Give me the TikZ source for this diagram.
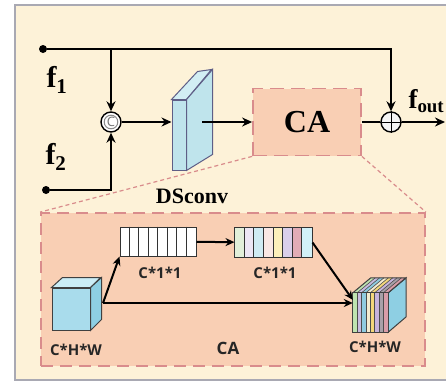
\documentclass[tikz,border=0pt]{standalone}
\usepackage{fontspec}
\setmainfont{Liberation Serif}
\newfontfamily\lblfont{Open Sans}
\usepackage{xcolor}
\definecolor{paper}{HTML}{FDF2D8}
\definecolor{frm}{HTML}{A9A9B3}
\definecolor{peach}{HTML}{F9CFB4}
\definecolor{rose}{HTML}{D98C8C}
\definecolor{ice}{HTML}{BFE4EC}
\definecolor{iceT}{HTML}{D2EEF4}
\definecolor{edge}{HTML}{5E5E86}
\definecolor{cubeF}{HTML}{A9DCEC}
\definecolor{cubeT}{HTML}{CBEDF6}
\definecolor{cubeR}{HTML}{8ECFE3}
% pale cells of the weighted vector
\definecolor{p1}{HTML}{E2EFD9}
\definecolor{p2}{HTML}{EDE6F4}
\definecolor{p3}{HTML}{CFEBF3}
\definecolor{p4}{HTML}{F9E7E4}
\definecolor{p5}{HTML}{FCEFBA}
\definecolor{p6}{HTML}{DACFEA}
\definecolor{p7}{HTML}{E2ACB6}
\definecolor{p8}{HTML}{D2F1F8}
% stripes of the output cube
\definecolor{k1}{HTML}{BFE3B0}
\definecolor{k2}{HTML}{C8BCE0}
\definecolor{k3}{HTML}{8FCBE0}
\definecolor{k4}{HTML}{F4EBD0}
\definecolor{k5}{HTML}{F3D77A}
\definecolor{k6}{HTML}{C7B4DC}
\definecolor{k7}{HTML}{A8A0A8}
\definecolor{k8}{HTML}{D89CA8}
\usetikzlibrary{arrows.meta,positioning,calc}
\tikzset{
  >={Stealth[length=10pt,width=9pt]},
  line/.style={line width=2.4pt},
  flow/.style={->,line width=2.4pt},
  iflow/.style={-{Stealth[length=9pt,width=8pt]},line width=2pt},
  dot/.style={circle,fill=black,inner sep=0pt,minimum size=8pt},
  op/.style={circle,draw=black,line width=1.4pt,fill=white,minimum size=20pt,inner sep=0pt},
  cabox/.style={draw=rose,dash pattern=on 14pt off 7pt,line width=1.8pt,fill=peach,inner sep=0pt},
  zoomln/.style={draw=rose,line width=1.2pt,dash pattern=on 4pt off 3pt},
  lab/.style={font=\fontsize{30}{32}\selectfont\bfseries},
  slab/.style={font=\lblfont\bfseries\fontsize{15}{17}\selectfont,text=black!85},
  bar/.style={draw=black!80,line width=1pt,minimum height=29pt,inner sep=0pt},
  face/.style={draw=black!75,line width=1pt},
}
\begin{document}
\begin{tikzpicture}[x=1pt,y=-1pt]
\useasboundingbox (0,0) rectangle (446,383);
\clip (0,0) rectangle (446,383);
\fill[white] (0,0) rectangle (446,383);
\draw[frm,line width=2pt,fill=paper] (15,5) rectangle (470,380);
% top branch
\node[dot] (in1) at (43,49) {};
\node[dot] (in2) at (46,190) {};
\node[lab] (f1) at (57,80) {$\mathbf{f}_{\mathbf{1}}$};
\node[lab] (f2) at (56,157) {$\mathbf{f}_{\mathbf{2}}$};
\node[op] (cat) at (111,122) {\lblfont\fontsize{13}{13}\selectfont\color{black!55}C};
\draw[black!45,line width=1pt] (cat) circle (6.8pt);
\node[draw=edge,fill=ice,line width=1pt,minimum width=14pt,minimum height=70pt,inner sep=0pt] (ds) at (179,135) {};
\draw[edge,fill=iceT,line width=1pt] (ds.north west) -- ++(26,-28) -- ++(14,-2) -- (ds.north east) -- cycle;
\draw[edge,fill=ice,line width=1pt] (ds.north east) -- ++(26,-30) -- ++(0,85) -- (ds.south east) -- cycle;
\coordinate (dsout) at (202,122);
\node[font=\fontsize{22}{24}\selectfont\bfseries] (dsl) at (192,196) {DSconv};
\node[cabox,minimum width=108pt,minimum height=67pt,font=\fontsize{32}{34}\selectfont\bfseries] (ca) at (307,122) {CA};
\node[op,fill=black!4] (add) at (391,122) {};
\draw[line width=1pt] (add.north) -- (add.south) (add.west) -- (add.east);
\node[lab,anchor=west,font=\fontsize{27}{29}\selectfont\bfseries] (fo) at (405,101) {$\mathbf{f}_{\mathbf{out}}$};
\coordinate (fend) at (445,122);
\draw[flow] (in1) -| (add);
\draw[flow] (in1 -| cat) -- (cat);
\draw[flow] (in2) -| (cat);
\draw[flow] (cat) -- (cat -| ds.west);
\draw[flow] (dsout) -- (dsout -| ca.west);
\draw[line] (ca) -- (add);
\draw[flow] (add) -- (fend);
% zoomed CA block
\node[cabox,dash pattern=on 12pt off 7pt,minimum width=384pt,minimum height=153pt] (inner) at (233,289.5) {};
\draw[zoomln] (ca.south west) -- (inner.north west);
\draw[zoomln] (ca.south east) -- (inner.north east);
% input cube
\node[face,fill=cubeF,minimum width=38pt,minimum height=42pt,inner sep=0pt] (xin) at (71,309) {};
\draw[face,fill=cubeT] (xin.north west) -- ++(11,-10) -- ++(38,0) -- (xin.north east) -- cycle;
\draw[face,fill=cubeR] (xin.north east) -- ++(11,-10) -- ++(0,42) -- (xin.south east) -- cycle;
\node[slab] (lin) at (76,350) {C*H*W};
% channel vectors
\node[bar,fill=white,minimum width=76pt] (bar1) at (158,241.5) {};
\foreach \i in {1,...,7}
  \draw[black!80,line width=0.8pt] ($(bar1.north west)+(\i*9.5,0)$) -- ++(0,29);
\node[slab] (lb1) at (160,273) {C*1*1};
\node[bar,minimum width=77pt] (bar2) at (273.5,242.5) {};
\foreach \c [count=\i from 0] in {p1,p2,p3,p4,p5,p6,p7,p8}
  \fill[\c] ($(bar2.north west)+(\i*9.625,0)$) rectangle ++(9.625,29);
\foreach \i in {1,...,7}
  \draw[black!80,line width=0.8pt] ($(bar2.north west)+(\i*9.625,0)$) -- ++(0,29);
\draw[black!80,line width=1pt] (bar2.north west) rectangle (bar2.south east);
\node[slab] (lb2) at (275,273) {C*1*1};
% output cube
\node[minimum width=35pt,minimum height=39pt,inner sep=0pt] (xout) at (370.5,312.5) {};
\draw[face,fill=cubeR] (xout.north east) -- ++(18,-15) -- ++(0,39) -- (xout.south east) -- cycle;
\foreach \c [count=\i from 0] in {k1,k2,k3,k4,k5,k6,k7,k8}{
  \fill[\c] ($(xout.north west)+(\i*4.375,0)$) rectangle ++(4.375,39);
  \fill[\c] ($(xout.north west)+(\i*4.375,0)$) -- ++(18,-15) -- ++(4.375,0) -- ++(-18,15) -- cycle;
}
\foreach \i in {1,...,7}{
  \draw[black!70,line width=0.6pt] ($(xout.north west)+(\i*4.375,0)$) -- ++(0,39);
  \draw[black!70,line width=0.6pt] ($(xout.north west)+(\i*4.375,0)$) -- ++(18,-15);
}
\draw[face] (xout.north west) rectangle (xout.south east);
\draw[face] (xout.north west) -- ++(18,-15) -- ++(35,0) -- (xout.north east);
\node[slab] (lout) at (375,347) {C*H*W};
\node[slab,font=\lblfont\bfseries\fontsize{17}{19}\selectfont] (lca) at (228,348) {CA};
\coordinate (sp) at (103,303);
\draw[iflow] (sp) -- (bar1.south west);
\draw[iflow] (sp) -- (sp -| xout.west);
\draw[iflow] (bar1) -- (bar2);
\draw[iflow] (bar2.east) -- ($(xout.north west)!0.18!(xout.south west)$);
\end{tikzpicture}
\end{document}
